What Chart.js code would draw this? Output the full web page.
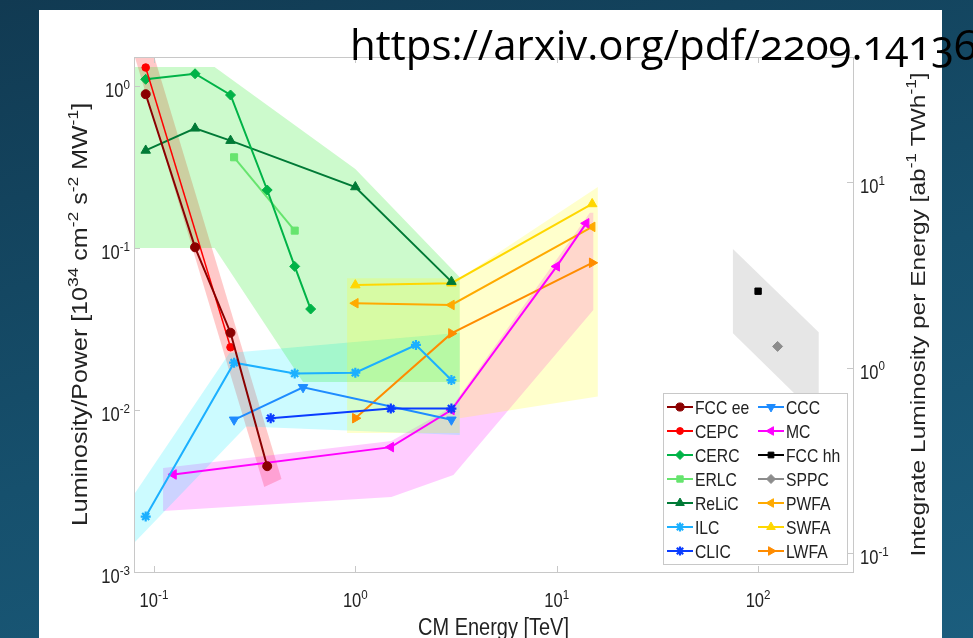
<!DOCTYPE html>
<html>
<head>
<meta charset="utf-8">
<script src="https://cdn.jsdelivr.net/npm/chart.js@4.4.1/dist/chart.umd.min.js"></script>
<style>
  html, body { margin: 0; padding: 0; width: 973px; height: 638px; overflow: hidden; }
  body { position: relative; background: linear-gradient(165deg, #113a52 0%, #16506d 55%, #1b5d7d 100%); }
  #panel { position: absolute; left: 39px; top: 10px; width: 903px; height: 628px; background: #fff; }
  #chart { position: absolute; left: 0; top: 0; }
  #src { position: absolute; left: 350px; top: 23px; font-family: "Open Sans", sans-serif; font-size: 42px;
         line-height: 42px; color: #000; white-space: nowrap; font-variant-numeric: oldstyle-nums; }
</style>
</head>
<body>
<div id="panel"></div>
<canvas id="chart" width="973" height="638"></canvas>
<div id="src">https://arxiv.org/pdf/2209.14136</div>
<script>
// CM energy [TeV] vs luminosity per power [1e34 cm^-2 s^-2 MW^-1]
const fccEeEnergy = [0.091, 0.16, 0.24, 0.365];
const fccEeLum = [0.89, 0.101, 0.030, 0.0045];
const cepcEnergy = [0.091, 0.24];
const cepcLum = [1.30, 0.0244];
const cercEnergy = [0.091, 0.16, 0.24, 0.365, 0.5, 0.6];
const cercLum = [1.10, 1.19, 0.88, 0.228, 0.077, 0.042];
const erlcEnergy = [0.25, 0.5];
const erlcLum = [0.363, 0.128];
const relicEnergy = [0.091, 0.16, 0.24, 1, 3];
const relicLum = [0.40, 0.548, 0.46, 0.238, 0.062];
const ilcEnergy = [0.091, 0.25, 0.5, 1, 2, 3];
const ilcLum = [0.0022, 0.0196, 0.0168, 0.0170, 0.0252, 0.0153];
const clicEnergy = [0.38, 1.5, 3];
const clicLum = [0.0089, 0.0102, 0.0102];
const cccEnergy = [0.25, 0.55, 3];
const cccLum = [0.0087, 0.0138, 0.0087];
const mcEnergy = [0.125, 1.5, 3, 10, 14];
const mcLum = [0.0040, 0.0059, 0.0100, 0.077, 0.142];
const pwfaEnergy = [1, 3, 15];
const pwfaLum = [0.0456, 0.0445, 0.135];
const swfaEnergy = [1, 3, 15];
const swfaLum = [0.059, 0.0606, 0.187];
const lwfaEnergy = [1, 3, 15];
const lwfaLum = [0.0089, 0.0297, 0.081];

// hadron colliders, integrated luminosity per energy [ab^-1 TWh^-1] (right axis)
const fccHhEnergy = [100];
const fccHhPerEnergy = [2.58];
const sppcEnergy = [125];
const sppcPerEnergy = [1.30];

// shaded ranges (polygon corners)
const fccEeBandEnergy = [0.076, 0.095, 0.43, 0.353];
const fccEeBandLum = [1.9, 1.9, 0.00375, 0.00335];
const circularBandEnergy = [0.07, 0.2, 1, 3.3, 3.3, 0.55, 0.2, 0.07];
const circularBandLum = [1.31, 1.31, 0.307, 0.066, 0.0149, 0.0149, 0.1, 0.1];
const linearBandEnergy = [0.075, 0.237, 3.3, 3.3, 0.287, 0.075];
const linearBandLum = [0.0027, 0.0225, 0.030, 0.0070, 0.0079, 0.0014];
const muonBandEnergy = [0.111, 1.51, 3.0, 14.6, 15.2, 15.2, 3.07, 1.51, 0.111];
const muonBandLum = [0.00439, 0.00644, 0.0104, 0.165, 0.165, 0.0414, 0.00397, 0.0029, 0.00238];
const plasmaBandEnergy = [0.91, 3.3, 16, 16, 3.3, 3.3, 0.91];
const plasmaBandLum = [0.065, 0.065, 0.238, 0.0121, 0.0089, 0.0072, 0.0072];
const hadronBandEnergy = [75, 200, 200, 75];
const hadronBandPerEnergy = [4.35, 1.55, 0.54, 1.53];

const energyTicks = [0.1, 1, 10, 100];
const energyTickLabels = ['10^{-1}', '10^{0}', '10^{1}', '10^{2}'];
const lumTicks = [0.001, 0.01, 0.1, 1];
const lumTickLabels = ['10^{-3}', '10^{-2}', '10^{-1}', '10^{0}'];
const perEnergyTicks = [0.1, 1, 10];
const perEnergyTickLabels = ['10^{-1}', '10^{0}', '10^{1}'];

const FONT = '"Liberation Sans", Arial, Helvetica, sans-serif';
const TEXT = '#222';
const AXIS = '#c8c8c8';
const SQUEEZE = 0.85;

const pts = (xs, ys) => xs.map((x, i) => ({ x, y: ys[i] }));

const series = [
  { label: 'FCC ee', x: fccEeEnergy, y: fccEeLum, color: '#8b0000', style: 'circle', r: 4.5 },
  { label: 'CEPC', x: cepcEnergy, y: cepcLum, color: '#ff0000', style: 'circle', r: 3.8, width: 1.5 },
  { label: 'CERC', x: cercEnergy, y: cercLum, color: '#00b347', style: 'rectRot', r: 5 },
  { label: 'ERLC', x: erlcEnergy, y: erlcLum, color: '#66e46e', style: 'rect', r: 5 },
  { label: 'ReLiC', x: relicEnergy, y: relicLum, color: '#007a36', style: 'triangle', r: 5.5 },
  { label: 'ILC', x: ilcEnergy, y: ilcLum, color: '#1cb0ff', style: 'star', r: 5 },
  { label: 'CLIC', x: clicEnergy, y: clicLum, color: '#0a3cff', style: 'star', r: 5 },
  { label: 'CCC', x: cccEnergy, y: cccLum, color: '#1e8cff', style: 'triangle', rot: 180, r: 5.5 },
  { label: 'MC', x: mcEnergy, y: mcLum, color: '#ff00ff', style: 'triangle', rot: 270, r: 5.5 },
  { label: 'FCC hh', x: fccHhEnergy, y: fccHhPerEnergy, color: '#000000', style: 'rect', r: 4.5, axis: 'y2' },
  { label: 'SPPC', x: sppcEnergy, y: sppcPerEnergy, color: '#8c8c8c', style: 'rectRot', r: 5, axis: 'y2' },
  { label: 'PWFA', x: pwfaEnergy, y: pwfaLum, color: '#ffaa00', style: 'triangle', rot: 270, r: 5.5 },
  { label: 'SWFA', x: swfaEnergy, y: swfaLum, color: '#ffd700', style: 'triangle', r: 5.5 },
  { label: 'LWFA', x: lwfaEnergy, y: lwfaLum, color: '#ff8c00', style: 'triangle', rot: 90, r: 5.5 }
];

// bands are drawn underneath the lines, higher order = further back
const bands = [
  { x: fccEeBandEnergy, y: fccEeBandLum, color: 'rgba(255, 0, 0, 0.21)', order: 16 },
  { x: muonBandEnergy, y: muonBandLum, color: 'rgba(255, 0, 255, 0.2)', order: 15 },
  { x: linearBandEnergy, y: linearBandLum, color: 'rgba(0, 235, 255, 0.2)', order: 14 },
  { x: circularBandEnergy, y: circularBandLum, color: 'rgba(0, 230, 0, 0.2)', order: 13 },
  { x: plasmaBandEnergy, y: plasmaBandLum, color: 'rgba(255, 255, 0, 0.2)', order: 12 },
  { x: hadronBandEnergy, y: hadronBandPerEnergy, color: 'rgba(128, 128, 128, 0.2)', order: 11, axis: 'y2' }
];

const bandSets = bands.map(b => ({
  data: pts(b.x, b.y),
  yAxisID: b.axis || 'y',
  fill: 'shape',
  backgroundColor: b.color,
  borderColor: 'transparent',
  borderWidth: 0,
  pointRadius: 0,
  tension: 0,
  order: b.order
}));

const lineSets = series.map(s => ({
  label: s.label,
  data: pts(s.x, s.y),
  yAxisID: s.axis || 'y',
  borderColor: s.color,
  backgroundColor: s.color,
  pointBackgroundColor: s.color,
  pointBorderColor: s.color,
  borderWidth: s.width || 2,
  pointStyle: s.style,
  pointRotation: s.rot || 0,
  pointRadius: s.r,
  pointBorderWidth: s.style === 'star' ? 2.2 : 1,
  fill: false,
  tension: 0,
  order: 0
}));

// split "10^{-2}" style strings into normal and superscript runs
function richParts(str) {
  const parts = [];
  const re = /\^\{([^}]*)\}/g;
  let last = 0, m;
  while ((m = re.exec(str))) {
    if (m.index > last) parts.push({ text: str.slice(last, m.index), sup: false });
    parts.push({ text: m[1], sup: true });
    last = re.lastIndex;
  }
  if (last < str.length) parts.push({ text: str.slice(last), sup: false });
  return parts;
}

function drawRich(ctx, str, x, y, o) {
  const size = o.size;
  const supSize = size * 0.7;
  const rise = size * 0.42;
  const parts = richParts(str);
  ctx.save();
  ctx.translate(x, y);
  if (o.vertical) {
    ctx.rotate(-Math.PI / 2);
    ctx.scale(1, SQUEEZE);
  } else {
    ctx.scale(SQUEEZE, 1);
  }
  let w = 0;
  parts.forEach(p => {
    ctx.font = `${p.sup ? supSize : size}px ${FONT}`;
    p.w = ctx.measureText(p.text).width;
    w += p.w;
  });
  let cx = o.align === 'center' ? -w / 2 : o.align === 'right' ? -w : 0;
  ctx.fillStyle = TEXT;
  ctx.textAlign = 'left';
  ctx.textBaseline = 'alphabetic';
  parts.forEach(p => {
    ctx.font = `${p.sup ? supSize : size}px ${FONT}`;
    ctx.fillText(p.text, cx, p.sup ? -rise : 0);
    cx += p.w;
  });
  ctx.restore();
}

// box, inward ticks, tick labels and axis titles
const axesDecor = {
  id: 'axesDecor',
  afterDatasetsDraw(chart) {
    const { ctx, chartArea: a } = chart;
    const { x, y, y2 } = chart.scales;
    const tick = 6;
    ctx.save();
    ctx.strokeStyle = AXIS;
    ctx.lineWidth = 1;
    ctx.strokeRect(a.left + 0.5, a.top + 0.5, a.right - a.left, a.bottom - a.top);
    ctx.beginPath();
    energyTicks.forEach(v => {
      const px = Math.round(x.getPixelForValue(v)) + 0.5;
      ctx.moveTo(px, a.bottom); ctx.lineTo(px, a.bottom - tick);
      ctx.moveTo(px, a.top); ctx.lineTo(px, a.top + tick);
    });
    lumTicks.forEach(v => {
      const py = Math.round(y.getPixelForValue(v)) + 0.5;
      ctx.moveTo(a.left, py); ctx.lineTo(a.left + tick, py);
    });
    perEnergyTicks.forEach(v => {
      const py = Math.round(y2.getPixelForValue(v)) + 0.5;
      ctx.moveTo(a.right, py); ctx.lineTo(a.right - tick, py);
    });
    ctx.stroke();
    ctx.restore();

    energyTicks.forEach((v, i) => {
      drawRich(ctx, energyTickLabels[i], x.getPixelForValue(v), a.bottom + 35, { size: 19.5, align: 'center' });
    });
    lumTicks.forEach((v, i) => {
      drawRich(ctx, lumTickLabels[i], a.left - 4, y.getPixelForValue(v) + 11, { size: 19.5, align: 'right' });
    });
    perEnergyTicks.forEach((v, i) => {
      drawRich(ctx, perEnergyTickLabels[i], a.right + 7, y2.getPixelForValue(v) + 11, { size: 19.5, align: 'left' });
    });

    const midX = (a.left + a.right) / 2;
    const midY = (a.top + a.bottom) / 2;
    drawRich(ctx, 'CM Energy [TeV]', midX, a.bottom + 63, { size: 23.5, align: 'center' });
    drawRich(ctx, 'Luminosity/Power [10^{34} cm^{-2} s^{-2} MW^{-1}]', 87, midY,
      { size: 25, align: 'center', vertical: true });
    drawRich(ctx, 'Integrate Luminosity per Energy [ab^{-1} TWh^{-1}]', 925, midY,
      { size: 24.5, align: 'center', vertical: true });
  }
};

// two-column boxed legend in the lower right corner of the plot
const boxLegend = {
  id: 'boxLegend',
  afterDraw(chart) {
    const { ctx, chartArea: a } = chart;
    const rows = 7;
    const w = 184, h = 171;
    const right = a.right - 6, bottom = a.bottom - 8;
    const left = right - w, top = bottom - h;
    ctx.save();
    ctx.fillStyle = '#fff';
    ctx.fillRect(left, top, w, h);
    ctx.strokeStyle = AXIS;
    ctx.lineWidth = 1;
    ctx.strokeRect(left + 0.5, top + 0.5, w, h);
    series.forEach((s, i) => {
      const col = Math.floor(i / rows);
      const row = i % rows;
      const x0 = left + 4 + col * 91;
      const yc = top + 14 + row * 24;
      ctx.strokeStyle = s.color;
      ctx.fillStyle = s.color;
      ctx.lineWidth = 2;
      ctx.beginPath();
      ctx.moveTo(x0, yc); ctx.lineTo(x0 + 26, yc);
      ctx.stroke();
      ctx.lineWidth = s.style === 'star' ? 2.2 : 1;
      Chart.helpers.drawPoint(ctx, {
        pointStyle: s.style, rotation: s.rot || 0, radius: s.r * 0.9, borderWidth: 1
      }, x0 + 13, yc);
      drawRich(ctx, s.label, x0 + 28, yc + 6.5, { size: 18.5, align: 'left' });
    });
    ctx.restore();
  }
};

new Chart(document.getElementById('chart'), {
  type: 'line',
  data: { datasets: [...bandSets, ...lineSets] },
  options: {
    responsive: false,
    animation: false,
    devicePixelRatio: 1,
    events: [],
    layout: { padding: { left: 134, right: 120, top: 57, bottom: 66 } },
    plugins: {
      legend: { display: false },
      tooltip: { enabled: false }
    },
    scales: {
      x: { type: 'logarithmic', min: 0.0796, max: 296, display: false },
      y: { type: 'logarithmic', min: 0.001, max: 1.51, display: false },
      y2: { type: 'logarithmic', position: 'right', min: 0.0791, max: 47.2, display: false }
    }
  },
  plugins: [axesDecor, boxLegend]
});
</script>
</body>
</html>
